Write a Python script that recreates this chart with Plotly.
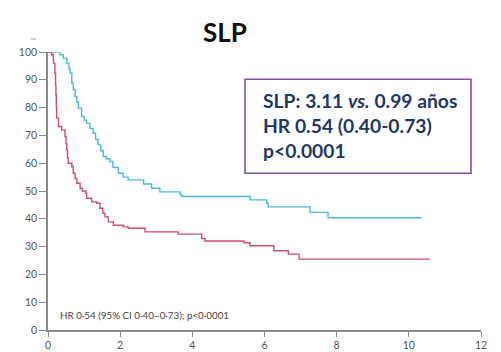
import plotly.graph_objects as go

# Kaplan-Meier step curves (time in years, survival in %)
blue_t = [0, 0.33, 0.42, 0.52, 0.58, 0.61, 0.66, 0.70, 0.75, 0.80, 0.84, 0.93, 1.00, 1.07,
          1.16, 1.25, 1.32, 1.39, 1.46, 1.53, 1.62, 1.72, 1.80, 1.95, 2.08, 2.22, 2.65,
          2.87, 3.10, 3.66, 3.71, 5.60, 6.06, 6.10, 7.26, 7.76, 10.35]
blue_s = [100, 99, 97.8, 96, 94, 92.4, 88.8, 86.5, 84, 82, 79.8, 76.8, 75.5, 74.4,
          72.5, 70.8, 68.5, 66.6, 64.5, 62.4, 61.5, 60.6, 58.5, 56.4, 55, 54, 52.5,
          51, 49.7, 48.6, 48, 46.8, 45.6, 44.3, 42.3, 40.4, 40.4]

red_t = [0, 0.10, 0.15, 0.19, 0.21, 0.22, 0.23, 0.24, 0.29, 0.38, 0.47, 0.50, 0.52, 0.54,
         0.56, 0.66, 0.70, 0.75, 0.80, 0.89, 0.95, 1.05, 1.07, 1.21, 1.35, 1.44, 1.52,
         1.58, 1.67, 1.81, 2.09, 2.22, 2.69, 3.61, 4.26, 4.35, 5.43, 5.60, 6.26, 6.66,
         6.96, 10.58]
red_s = [100, 99, 96, 92.4, 88, 84.6, 80, 76.2, 73.2, 72, 69.6, 67, 64.8, 62,
         60, 58.8, 56.4, 54.5, 52.8, 51, 50, 49.2, 47.4, 46.1, 45.6, 43.8, 42,
         40.7, 38.9, 37.7, 37.1, 36.6, 35.3, 34.5, 32.9, 32, 31.4, 30.3, 28.5, 27.3,
         25.5, 25.5]

x_ticks = [0, 2, 4, 6, 8, 10, 12]
y_ticks = [0, 10, 20, 30, 40, 50, 60, 70, 80, 90, 100]

title_text = "SLP"
box_lines = ["SLP: 3.11 <i>vs.</i> 0.99 años", "HR 0.54 (0.40-0.73)", "p<0.0001"]
note_text = "HR 0·54 (95% CI 0·40–0·73); p<0·0001"

W, H = 501, 352
L, R, T, B = 48, 20, 52, 22
pw, ph = W - L - R, H - T - B


def px_x(x):
    return (x - L) / pw


def px_y(y):
    return (H - B - y) / ph


fig = go.Figure()
fig.add_trace(go.Scatter(x=blue_t, y=blue_s, mode="lines", line_shape="hv",
                         line=dict(color="#4DB8DA", width=1.4), showlegend=False))
fig.add_trace(go.Scatter(x=red_t, y=red_s, mode="lines", line_shape="hv",
                         line=dict(color="#CE4E76", width=1.4), showlegend=False))

axis_common = dict(showline=True, linecolor="#8a8a8a", linewidth=1.5, ticks="outside",
                   tickcolor="#8a8a8a", tickwidth=1, showgrid=False, zeroline=False,
                   automargin=False,
                   tickfont=dict(family="Lato", size=10.5, color="#555555"))
fig.update_xaxes(range=[0, 12], tickvals=x_ticks, ticklen=5, **axis_common)
fig.update_yaxes(range=[0, 100], tickvals=y_ticks, ticklen=7, **axis_common)

fig.add_shape(type="rect", xref="paper", yref="paper",
              x0=px_x(245), x1=px_x(471), y0=px_y(173.3), y1=px_y(79.3),
              line=dict(color="#7B52A8", width=1.6), fillcolor="white")
for i, txt in enumerate(box_lines):
    fig.add_annotation(xref="paper", yref="paper", x=px_x(261), y=px_y(100 + 25.3 * i),
                       xanchor="left", yanchor="middle", text="<b>" + txt + "</b>",
                       showarrow=False,
                       font=dict(family="Lato", size=19.3, color="#1F3864"))

fig.add_annotation(xref="paper", yref="paper", x=px_x(225), y=px_y(32),
                   xanchor="center", yanchor="middle", text="<b>" + title_text + "</b>",
                   showarrow=False, font=dict(family="Lato", size=26, color="#111111"))

fig.add_annotation(xref="paper", yref="paper", x=px_x(58), y=px_y(315),
                   xanchor="left", yanchor="middle", text=note_text, showarrow=False,
                   font=dict(family="Lato", size=9.8, color="#444444"))

# small mark above the y axis
fig.add_shape(type="line", xref="paper", yref="paper",
              x0=px_x(31), x1=px_x(36), y0=px_y(39), y1=px_y(39),
              line=dict(color="#999999", width=1))

fig.update_layout(width=W, height=H, margin=dict(l=L, r=R, t=T, b=B, autoexpand=False),
                  plot_bgcolor="white", paper_bgcolor="white")

fig.write_html("out.html")
